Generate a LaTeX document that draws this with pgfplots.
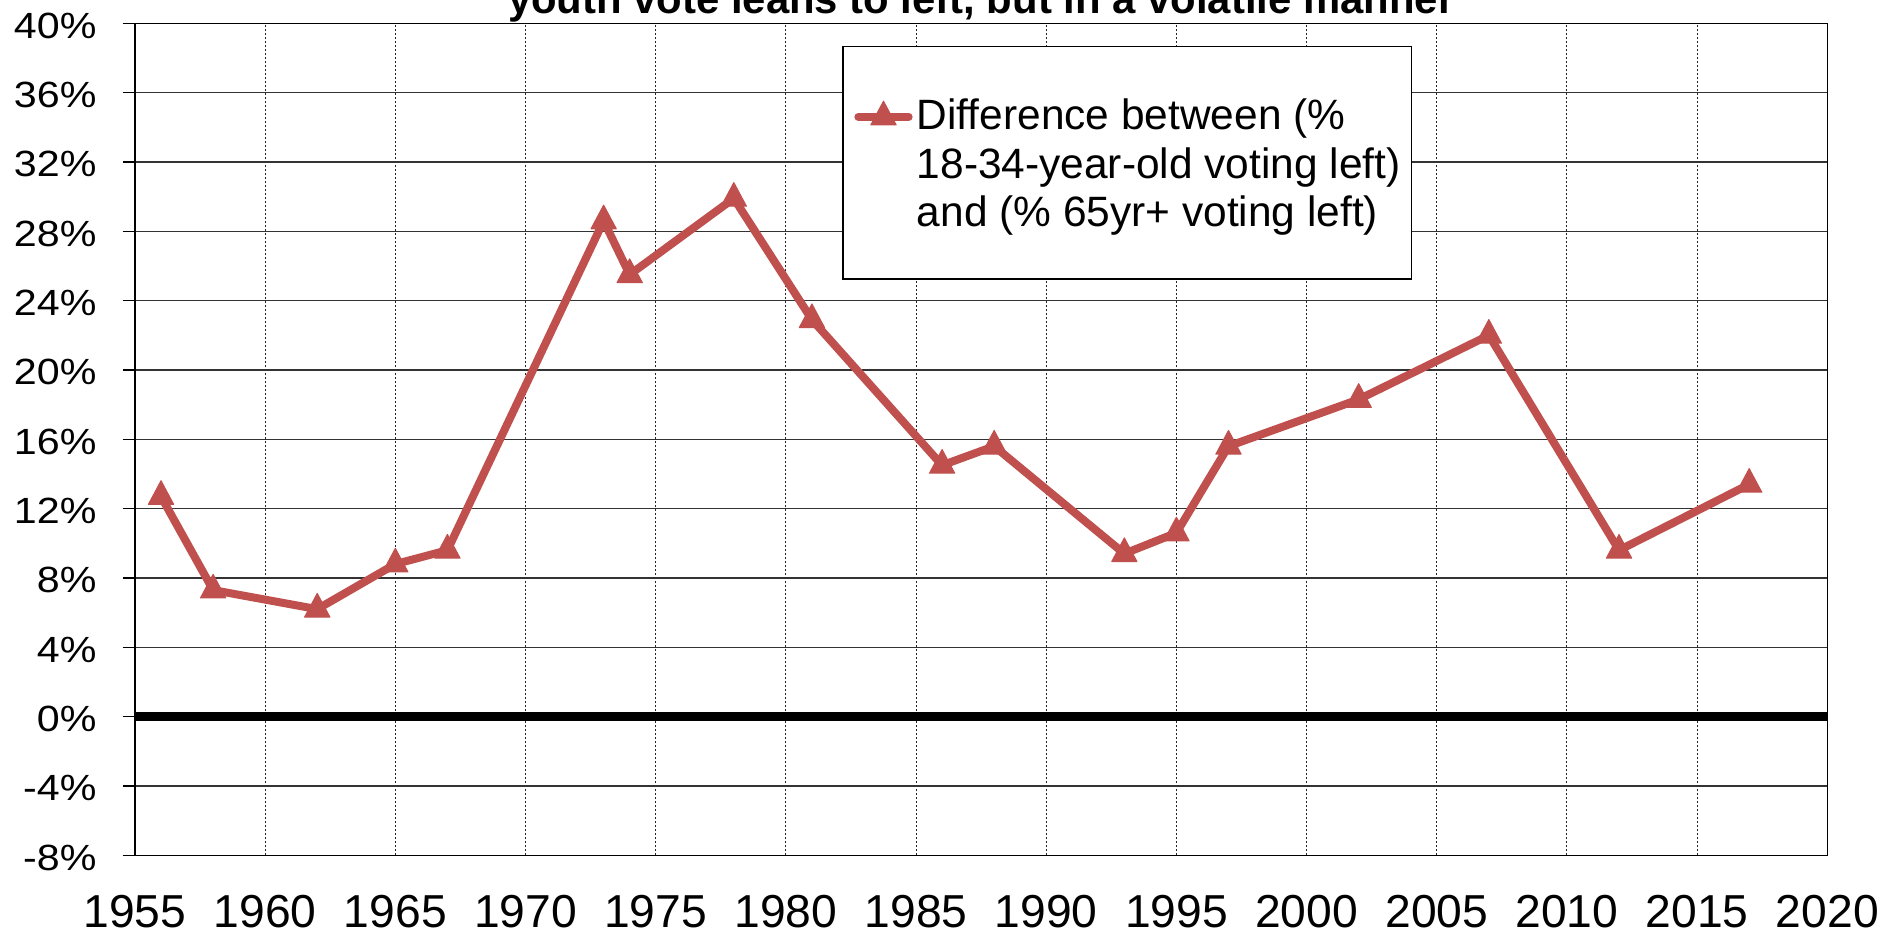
\documentclass[border=0pt]{standalone}
\usepackage{fontspec}
\setmainfont{Liberation Sans}
\newfontfamily\widefont[FakeStretch=1.13]{Liberation Sans}
\usepackage{pgfplots}
\pgfplotsset{compat=1.18}
\definecolor{exred}{HTML}{C0504D}
\begin{document}
\begin{tikzpicture}
\begin{axis}[name=ax, at={(0,0)}, anchor=south west,
  scale only axis, width=846.15bp, height=416bp,
  xmin=1955, xmax=2020, ymin=-8, ymax=40,
  xtick={1955,1960,1965,1970,1975,1980,1985,1990,1995,2000,2005,2010,2015,2020},
  xticklabels={1955,1960,1965,1970,1975,1980,1985,1990,1995,2000,2005,2010,2015,2020},
  ytick={-8,-4,0,4,8,12,16,20,24,28,32,36,40},
  yticklabels={-8\%,-4\%,0\%,4\%,8\%,12\%,16\%,20\%,24\%,28\%,32\%,36\%,40\%},
  xticklabel style={font=\fontsize{23.2}{27}\selectfont, anchor=base, inner sep=0pt, yshift=-30bp},
  yticklabel style={font=\widefont\fontsize{18.3}{21}\selectfont, anchor=east, inner sep=0pt, xshift=-12.9bp, yshift=-1.2bp},
  tick align=outside, major tick length=6.2bp,
  ytick pos=left,
  xtick style={draw=none},
  ytick style={black, line width=0.6bp},
  grid=major,
  x grid style={black!85, dash pattern=on 1.2bp off 0.8bp, line width=0.5bp},
  y grid style={black!80, line width=0.65bp},
  axis line style={black, line width=0.75bp},
  legend style={at={(0.41777,0.97308)}, anchor=north west, draw=black, line width=0.85bp,
    inner xsep=5.5bp, inner ysep=0pt,
    nodes={inner sep=0pt, anchor=base west, text depth=74.5bp, font=\fontsize{21.3}{24.25}\selectfont},
    /tikz/every odd column/.append style={column sep=2.1bp}},
  legend image code/.code={\path (0bp,0bp); \draw[mark repeat=2, mark phase=2] plot coordinates {(0.25bp,6.5bp) (12.825bp,6.5bp) (25.4bp,6.5bp)};},
]
\draw[black, line width=4.5bp] (axis cs:1955,0) -- (axis cs:2020.15,0);
\addplot[exred, line width=4bp, line join=round, line cap=round, mark=triangle*, mark size=7.3bp,
  mark options={solid, line width=0.5bp, fill=exred, yscale=1.08}]
  coordinates {
  (1956,12.7) (1958,7.3) (1962,6.2) (1965,8.8) (1967,9.6) (1973,28.6) (1974,25.5)
  (1978,29.9) (1981,22.9) (1986,14.5) (1988,15.6) (1993,9.4) (1995,10.6) (1997,15.6)
  (2002,18.3) (2007,22.0) (2012,9.6) (2017,13.4)};
\addlegendentry{\begin{tabular}[t]{@{}l@{}}\rule{0pt}{41.7bp}Difference between (\%\\18-34-year-old voting left)\\and (\% 65yr+ voting left)\end{tabular}}
\end{axis}
\node[anchor=base, inner sep=0pt, font=\bfseries\fontsize{21}{25}\selectfont] at ([yshift=5bp]ax.north) {youth vote leans to left, but in a volatile manner};
\pgfresetboundingbox
\path ([shift={(-67.5bp,-40.35bp)}]ax.south west) rectangle ([shift={(36.85bp,11.65bp)}]ax.north east);
\end{tikzpicture}
\end{document}
